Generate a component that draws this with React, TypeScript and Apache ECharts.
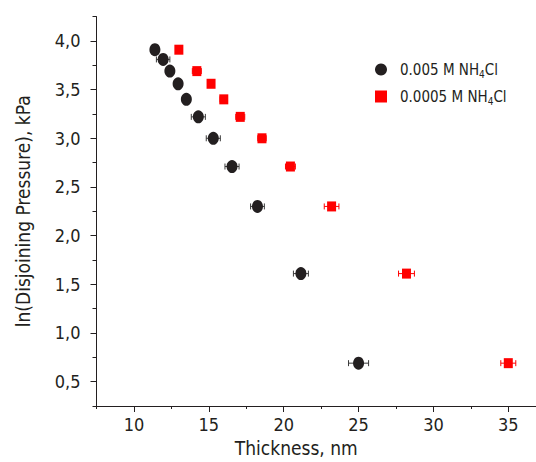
import React, { useEffect, useRef } from "react";
import * as echarts from "echarts";

// 0.005 M NH4Cl
const thickA = [11.4, 11.95, 12.4, 12.95, 13.5, 14.3, 15.3, 16.55, 18.25, 21.15, 25.0];
const lnPA = [3.91, 3.81, 3.69, 3.56, 3.40, 3.22, 3.00, 2.71, 2.30, 1.61, 0.69];
const errA = [0, 0.45, 0, 0, 0, 0.47, 0.47, 0.47, 0.46, 0.5, 0.67];

// 0.0005 M NH4Cl
const thickB = [13.0, 14.2, 15.15, 16.0, 17.1, 18.55, 20.45, 23.2, 28.2, 35.0];
const lnPB = [3.91, 3.69, 3.56, 3.40, 3.22, 3.00, 2.71, 2.30, 1.61, 0.69];
const errB = [0.22, 0.3, 0.2, 0.25, 0.3, 0.28, 0.33, 0.49, 0.53, 0.5];

const xMajor = [10, 15, 20, 25, 30, 35];
const xMinor = [7.5, 12.5, 17.5, 22.5, 27.5, 32.5];
const yMajor = [0.5, 1.0, 1.5, 2.0, 2.5, 3.0, 3.5, 4.0];
const yMinor = [0.25, 0.75, 1.25, 1.75, 2.25, 2.75, 3.25, 3.75, 4.25];

const nameA = "0.005 M NH4Cl";
const nameB = "0.0005 M NH4Cl";

const FONT = "'Liberation Sans Narrow', 'DejaVu Sans Condensed', 'Arial Narrow', sans-serif";
const INK = "#231f20";
const RED = "#ff0000";

const X_MIN = 7.5;
const X_MAX = 36.85;
const Y_MIN = 0.25;
const Y_MAX = 4.25;

function errorBarSeries(xs: number[], ys: number[], es: number[], color: string) {
  return {
    type: "custom",
    z: 1,
    silent: true,
    data: xs.map((x, i) => [x, ys[i], es[i]]),
    encode: { x: 0, y: 1 },
    renderItem: (_params: any, api: any) => {
      const x = api.value(0);
      const y = api.value(1);
      const e = api.value(2);
      if (!e) return null;
      const p1 = api.coord([x - e, y]);
      const p2 = api.coord([x + e, y]);
      const h = 3;
      const style = { stroke: color, lineWidth: 1 };
      return {
        type: "group",
        children: [
          { type: "line", shape: { x1: p1[0], y1: p1[1], x2: p2[0], y2: p2[1] }, style },
          { type: "line", shape: { x1: p1[0], y1: p1[1] - h, x2: p1[0], y2: p1[1] + h }, style },
          { type: "line", shape: { x1: p2[0], y1: p2[1] - h, x2: p2[0], y2: p2[1] + h }, style },
        ],
      };
    },
  };
}

export default function App() {
  const ref = useRef<HTMLDivElement>(null);

  useEffect(() => {
    if (!ref.current) return;
    const chart = echarts.init(ref.current, null, { renderer: "svg" });
    const fmt = (v: number) => v.toFixed(1).replace(".", ",");
    chart.setOption({
      animation: false,
      backgroundColor: "#ffffff",
      textStyle: { fontFamily: FONT },
      grid: { left: 96.5, right: 0, top: 16.6, bottom: 54.5 },
      legend: {
        orient: "vertical",
        left: 370,
        top: 57,
        itemGap: 10,
        itemWidth: 12,
        itemHeight: 12,
        data: [nameA, nameB],
        formatter: (n: string) => n.replace("NH4Cl", "NH{sub|4}Cl"),
        textStyle: {
          fontFamily: FONT,
          fontSize: 15,
          color: INK,
          padding: [0, 0, 0, 8],
          rich: {
            sub: { fontFamily: FONT, fontSize: 10, color: INK, padding: [9, 0, 0, 0] },
          },
        },
      },
      xAxis: [
        {
          type: "value",
          min: X_MIN,
          max: X_MAX,
          position: "bottom",
          splitLine: { show: false },
          axisLine: { show: true, lineStyle: { color: INK, width: 1 } },
          axisTick: { show: true, customValues: xMajor, length: 6, lineStyle: { color: INK } },
          axisLabel: { customValues: xMajor, color: INK, fontSize: 18, fontFamily: FONT, margin: 9 },
          name: "Thickness, nm",
          nameLocation: "middle",
          nameGap: 32,
          nameTextStyle: { fontSize: 19, fontFamily: FONT, color: INK, padding: [0, 40, 0, 0] },
        },
        {
          type: "value",
          min: X_MIN,
          max: X_MAX,
          position: "bottom",
          splitLine: { show: false },
          axisLine: { show: false },
          axisTick: { show: true, customValues: xMinor, length: 3, lineStyle: { color: INK } },
          axisLabel: { show: false },
        },
      ],
      yAxis: [
        {
          type: "value",
          min: Y_MIN,
          max: Y_MAX,
          position: "left",
          splitLine: { show: false },
          axisLine: { show: true, lineStyle: { color: INK, width: 1 } },
          axisTick: { show: true, customValues: yMajor, length: 6, lineStyle: { color: INK } },
          axisLabel: { customValues: yMajor, formatter: fmt, color: INK, fontSize: 18, fontFamily: FONT, margin: 16 },
          name: "ln(Disjoining Pressure), kPa",
          nameLocation: "middle",
          nameGap: 64,
          nameTextStyle: { fontSize: 19, fontFamily: FONT, color: INK },
        },
        {
          type: "value",
          min: Y_MIN,
          max: Y_MAX,
          position: "left",
          splitLine: { show: false },
          axisLine: { show: false },
          axisTick: { show: true, customValues: yMinor, length: 4, lineStyle: { color: INK } },
          axisLabel: { show: false },
        },
      ],
      series: [
        errorBarSeries(thickA, lnPA, errA, "#3a3a3a"),
        errorBarSeries(thickB, lnPB, errB, RED),
        {
          name: nameA,
          type: "scatter",
          z: 3,
          symbol: "circle",
          symbolSize: [11, 13],
          itemStyle: { color: INK, opacity: 1 },
          data: thickA.map((x, i) => [x, lnPA[i]]),
        },
        {
          name: nameB,
          type: "scatter",
          z: 3,
          symbol: "rect",
          symbolSize: [9, 10],
          itemStyle: { color: RED, opacity: 1 },
          data: thickB.map((x, i) => [x, lnPB[i]]),
        },
      ],
    });
    return () => chart.dispose();
  }, []);

  return (
    <div
      ref={ref}
      style={{ position: "fixed", left: 0, top: 0, width: 536, height: 462 }}
    />
  );
}
